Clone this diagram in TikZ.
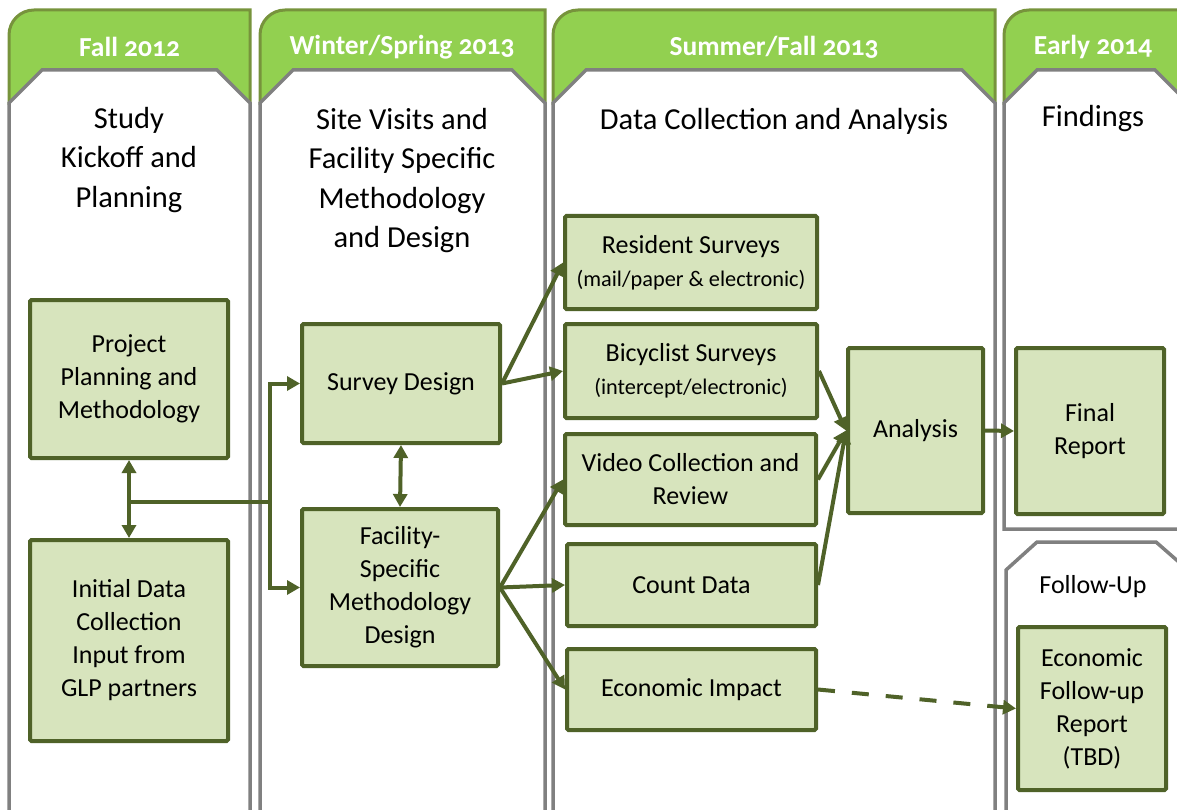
\documentclass[tikz,border=0pt]{standalone}
\usepackage{fontspec}
\setmainfont{Carlito}
\newfontfamily\headfont{Carlito}[Numbers=OldStyle]
\usetikzlibrary{arrows.meta}

\definecolor{tabgreen}{HTML}{92D050}
\definecolor{tabborder}{HTML}{77933C}
\definecolor{panelgray}{HTML}{808080}
\definecolor{boxfill}{HTML}{D7E4BD}
\definecolor{boxborder}{HTML}{4F6228}

\newcommand{\subline}[1]{{\fontsize{22.3}{32}\selectfont #1}}

\begin{document}
\begin{tikzpicture}[x=1pt, y=-1pt,
    tab/.style={fill=tabgreen, draw=tabborder, line width=3pt},
    panel/.style={fill=white, draw=panelgray, line width=3.5pt},
    phase/.style={font=\headfont\bfseries\fontsize{27.5}{32}\selectfont, text=white},
    heading/.style={font=\fontsize{30.5}{39.5}\selectfont, align=center},
    stepbox/.style={draw=boxborder, line width=4pt, fill=boxfill, rounded corners=1.5pt,
                    align=center, font=\fontsize{26}{33}\selectfont, inner sep=0pt},
    conn/.style={draw=boxborder, line width=4pt, -{Triangle[length=13pt,width=14pt]}},
    dconn/.style={conn, {Triangle[length=13pt,width=14pt]}-{Triangle[length=13pt,width=14pt]}},
]
\clip (0,0) rectangle (1177,810);

% --- Phase columns ---
\foreach \l/\r in {9/250, 260/545, 553/995, 1004/1188} {
  \draw[tab] (\l,105) -- (\l,35) arc[start angle=180, end angle=270, radius=25] -- (\r,10) -- (\r,105);
}
\foreach \l/\r in {9/250, 260/545, 553/995} {
  \draw[panel] (\l,830) -- (\l,103) -- (\l+33,70) -- (\r-33,70) -- (\r,103) -- (\r,830);
}
\draw[panel] (1004,529) -- (1004,103) -- (1037,70) -- (1155,70) -- (1188,103) -- (1188,529) -- cycle;
\draw[panel] (1006,830) -- (1006,570) -- (1037,542) -- (1156,542) -- (1188,570) -- (1188,830);

% --- Phase labels ---
\node[phase] (fall) at (129.5,47) {Fall 2012};
\node[phase] (winter) at (402,47) {Winter/Spring 2013};
\node[phase] (summer) at (774,47) {Summer/Fall 2013};
\node[phase] (early) at (1093,47) {Early 2014};

% --- Column headings ---
\node[heading] (kickoff) at (129,160) {Study\\Kickoff and\\Planning};
\node[heading] (visits) at (402,180.5) {Site Visits and\\Facility Specific\\Methodology\\and Design};
\node[heading] (collect) at (774,121) {Data Collection and Analysis};
\node[heading] (findings) at (1093,119) {Findings};
\node[heading, font=\fontsize{26}{30}\selectfont] (follow) at (1093,587) {Follow-Up};

% --- Steps ---
\node[stepbox, minimum width=198pt, minimum height=158pt] (plan) at (129,379) {Project\\Planning and\\Methodology};
\node[stepbox, minimum width=198pt, minimum height=201pt] (initial) at (129,640.5) {Initial Data\\Collection\\Input from\\GLP partners};
\node[stepbox, minimum width=198pt, minimum height=119pt] (survey) at (401,383.5) {Survey Design};
\node[stepbox, minimum width=196pt, minimum height=157pt] (facility) at (400,587.5) {Facility-\\Specific\\Methodology\\Design};
\node[stepbox, minimum width=252pt, minimum height=93pt] (resident) at (691,262.5) {Resident Surveys\\\subline{(mail/paper \& electronic)}};
\node[stepbox, minimum width=252pt, minimum height=94pt] (bicycle) at (691,371) {Bicyclist Surveys\\\subline{(intercept/electronic)}};
\node[stepbox, minimum width=251pt, minimum height=91pt] (video) at (690.5,479.5) {Video Collection and\\Review};
\node[stepbox, minimum width=249pt, minimum height=82pt] (count) at (691.5,585) {Count Data};
\node[stepbox, minimum width=249pt, minimum height=81pt] (impact) at (691.5,689.5) {Economic Impact};
\node[stepbox, minimum width=135pt, minimum height=165pt] (analysis) at (915.5,430.5) {Analysis};
\node[stepbox, minimum width=148pt, minimum height=166pt] (final) at (1090,431) {Final\\Report};
\node[stepbox, minimum width=148pt, minimum height=163pt] (econreport) at (1092,708.5) {Economic\\Follow-up\\Report\\(TBD)};

% --- Connections ---
\coordinate (tap) at (130,502);
\coordinate (split) at (270,502);
\draw[dconn] (plan.south) -- (initial.north);
\draw[boxborder, line width=4pt] (tap) -- (split);
\draw[conn] (split) |- (survey.west);
\draw[conn] (split) |- (facility.west);
\draw[dconn] (survey.south) -- (facility.north);

\draw[conn] (survey.east) -- (resident.west);
\draw[conn] (survey.east) -- (bicycle.west);
\draw[conn] (facility.east) -- (video.west);
\draw[conn] (facility.east) -- (count.west);
\draw[conn] (facility.east) -- (impact.west);

\draw[conn] (bicycle.east) -- (analysis.west);
\draw[conn] (video.east) -- (analysis.west);
\draw[conn] (count.east) -- (analysis.west);
\draw[conn] (analysis.east) -- (final.west);
\draw[conn, dash pattern=on 17pt off 17pt] (impact.east) -- (econreport.west);

\end{tikzpicture}
\end{document}
